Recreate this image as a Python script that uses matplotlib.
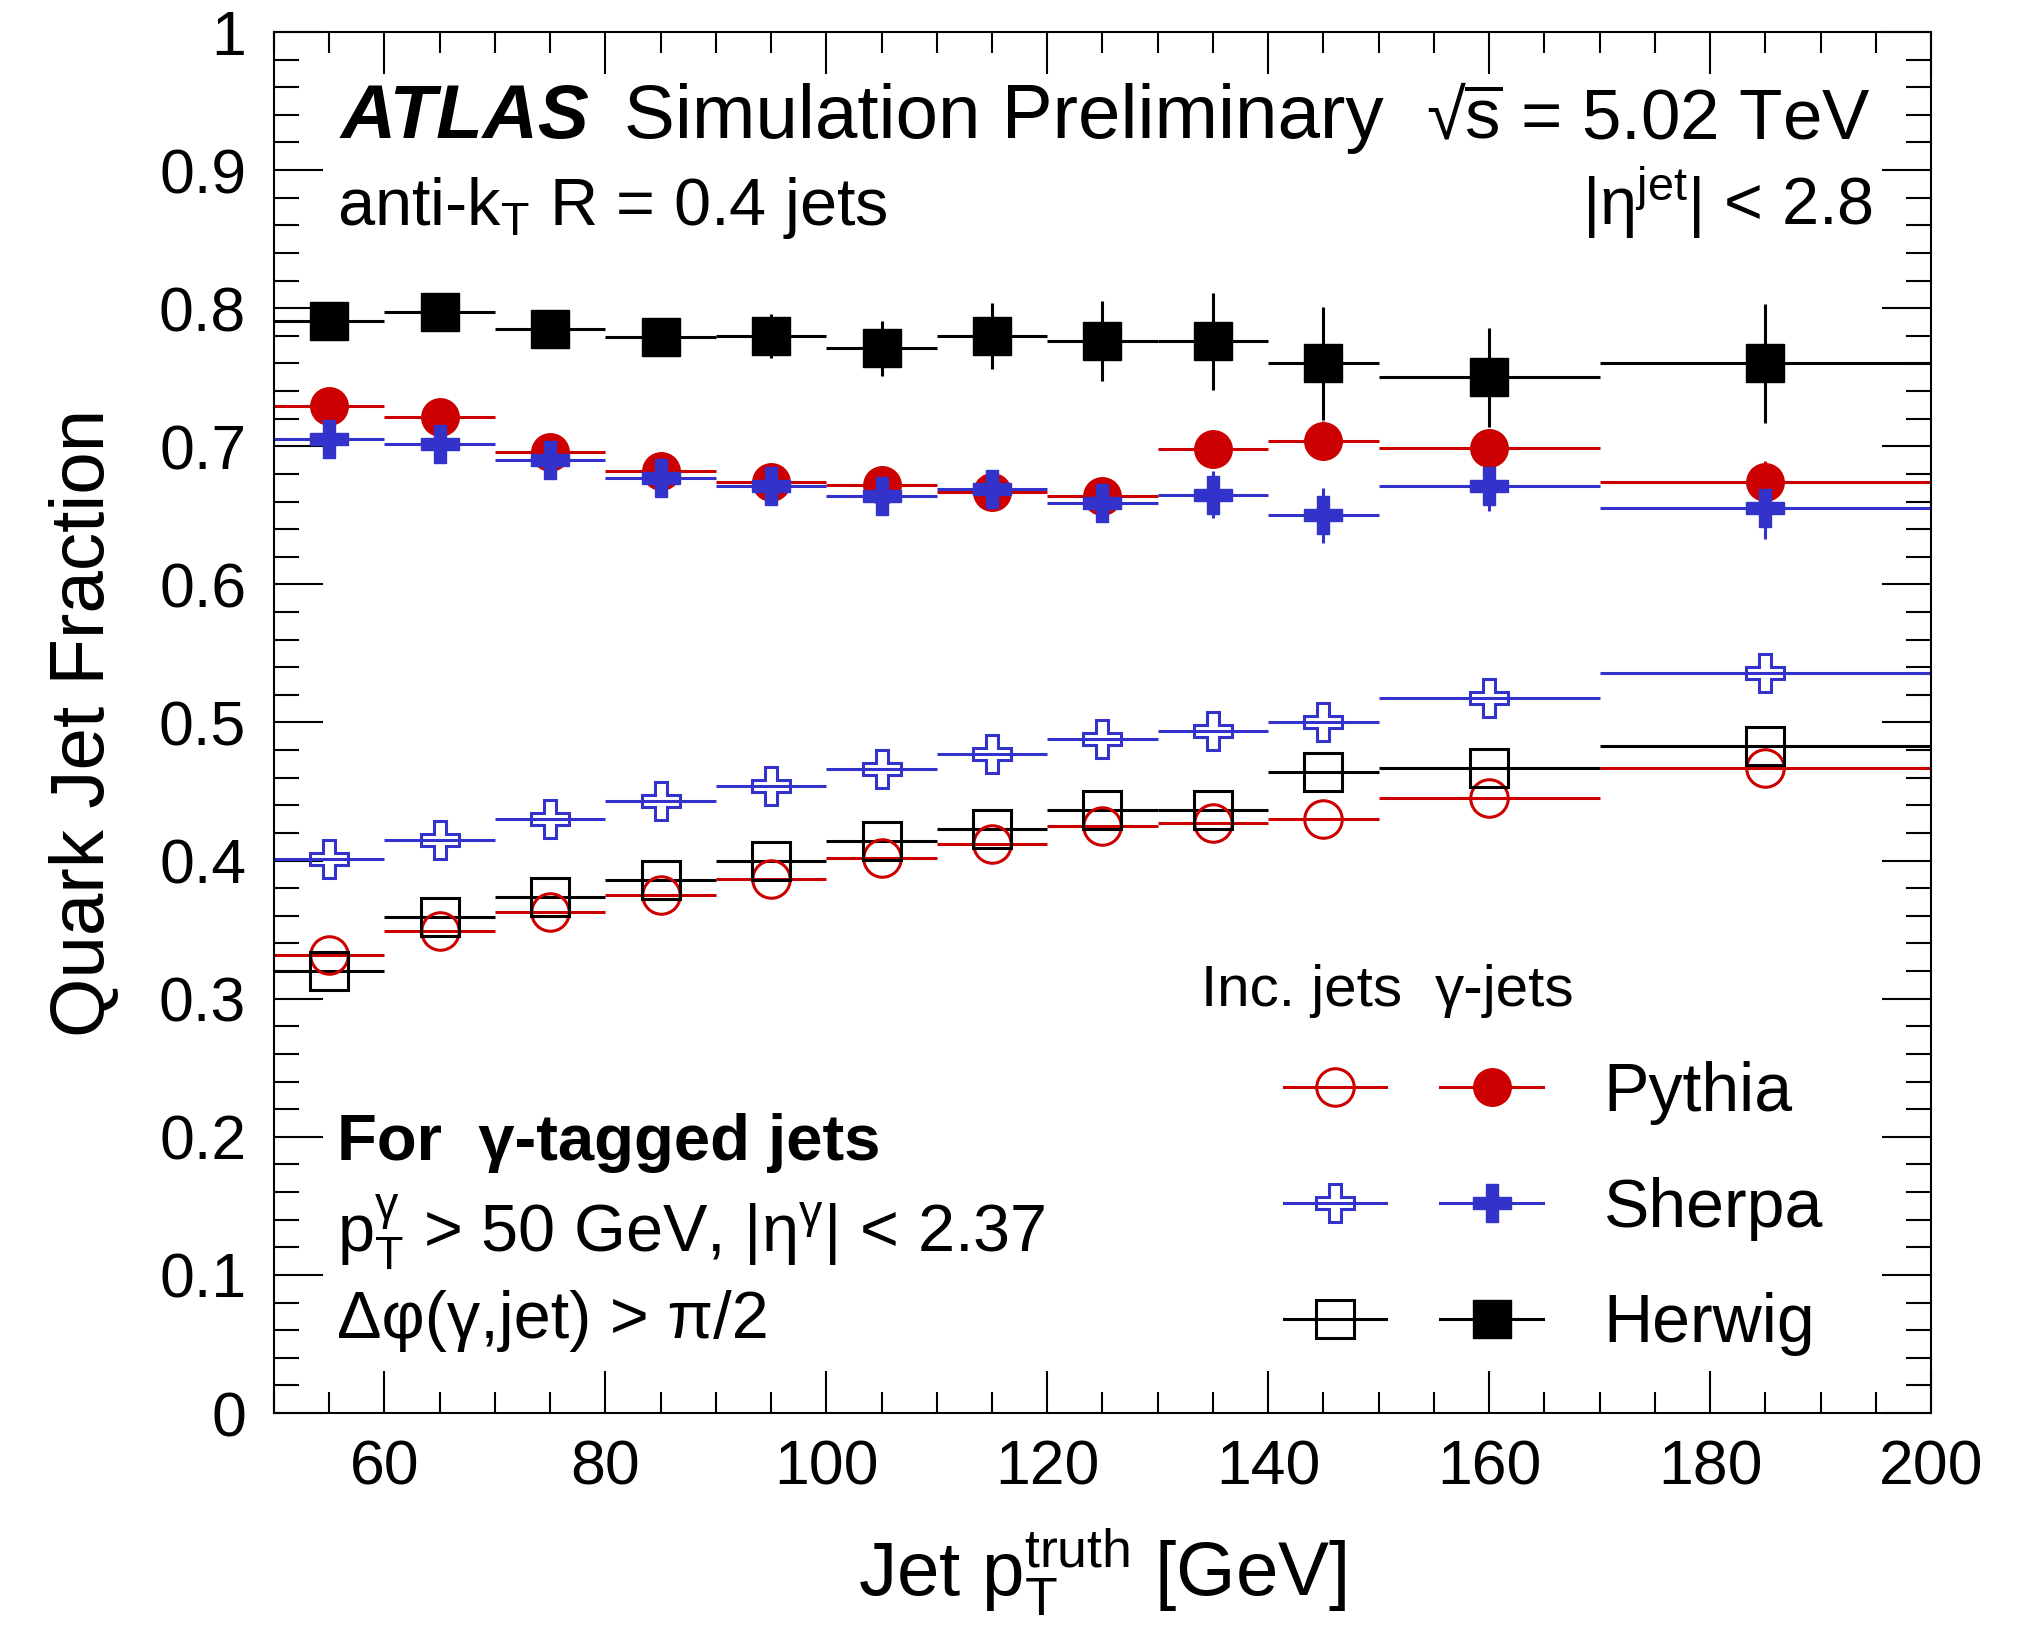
import numpy as np
import matplotlib
matplotlib.use("Agg")
import matplotlib.pyplot as plt
from matplotlib.lines import Line2D
from matplotlib.ticker import MultipleLocator, FuncFormatter

plt.rcParams['font.family'] = ['Liberation Sans', 'DejaVu Sans']
plt.rcParams['mathtext.fontset'] = 'custom'
plt.rcParams['mathtext.rm'] = 'Liberation Sans'
plt.rcParams['mathtext.it'] = 'Liberation Sans:italic'
plt.rcParams['mathtext.bf'] = 'Liberation Sans:bold'

# %% veri: jet pT bin kenarlari ve quark jet oranlari
bin_edges = np.array([50, 60, 70, 80, 90, 100, 110, 120, 130, 140, 150, 170, 200])

# inclusive jets (acik markerlar)
pythia_inc = [0.332, 0.349, 0.363, 0.375, 0.387, 0.402, 0.412, 0.425, 0.427, 0.430, 0.445, 0.467]
sherpa_inc = [0.401, 0.415, 0.430, 0.443, 0.454, 0.466, 0.477, 0.488, 0.494, 0.500, 0.518, 0.536]
herwig_inc = [0.320, 0.359, 0.374, 0.386, 0.400, 0.414, 0.423, 0.437, 0.437, 0.464, 0.467, 0.483]

# gamma-tagged jets (dolu markerlar)
pythia_gam = [0.729, 0.721, 0.696, 0.682, 0.674, 0.672, 0.667, 0.664, 0.698, 0.704, 0.699, 0.674]
sherpa_gam = [0.705, 0.702, 0.690, 0.677, 0.671, 0.664, 0.669, 0.659, 0.665, 0.650, 0.671, 0.655]
herwig_gam = [0.791, 0.797, 0.785, 0.779, 0.780, 0.771, 0.780, 0.776, 0.776, 0.760, 0.750, 0.760]
pythia_gam_err = [0.004, 0.005, 0.006, 0.007, 0.008, 0.009, 0.010, 0.011, 0.012, 0.014, 0.012, 0.015]
sherpa_gam_err = [0.010, 0.010, 0.011, 0.011, 0.012, 0.012, 0.014, 0.013, 0.017, 0.020, 0.018, 0.022]
herwig_gam_err = [0.008, 0.009, 0.011, 0.012, 0.016, 0.020, 0.024, 0.029, 0.035, 0.041, 0.036, 0.043]

generators = ["Pythia", "Sherpa", "Herwig"]

# %% gorsellestirme
red = "#cc0000"
blue = "#3333cc"
black = "#000000"

centers = (bin_edges[:-1] + bin_edges[1:]) / 2
halfw = (bin_edges[1:] - bin_edges[:-1]) / 2

fig = plt.figure(figsize=(20.18, 16.44), dpi=100)
ax = fig.add_axes([274 / 2018, 1 - 1413 / 1644, (1931 - 274) / 2018, (1413 - 32) / 1644])

ms = 27
lw = 2.2
inc_series = [(pythia_inc, 'o', red), (herwig_inc, 's', black), (sherpa_inc, 'P', blue)]
gam_series = [(herwig_gam, herwig_gam_err, 's', black),
              (pythia_gam, pythia_gam_err, 'o', red),
              (sherpa_gam, sherpa_gam_err, 'P', blue)]

for vals, mk, col in inc_series:
    ax.errorbar(centers, vals, xerr=halfw, fmt=mk, ms=ms, mfc='none',
                mec=col, mew=2.2, ecolor=col, elinewidth=lw, capsize=0)
for vals, errs, mk, col in gam_series:
    ax.errorbar(centers, vals, xerr=halfw, yerr=errs, fmt=mk, ms=ms, mfc=col,
                mec=col, mew=1, ecolor=col, elinewidth=lw, capsize=0)

ax.set_xlim(50, 200)
ax.set_ylim(0, 1)
ax.xaxis.set_major_locator(MultipleLocator(20))
ax.xaxis.set_minor_locator(MultipleLocator(5))
ax.yaxis.set_major_locator(MultipleLocator(0.1))
ax.yaxis.set_minor_locator(MultipleLocator(0.02))
ax.yaxis.set_major_formatter(FuncFormatter(lambda v, p: "%g" % round(v, 2)))
ax.tick_params(which='both', direction='in', top=True, right=True, width=1.5, labelsize=45)
ax.tick_params(axis='x', which='major', length=30, pad=18)
ax.tick_params(axis='x', which='minor', length=15)
ax.tick_params(axis='y', which='major', length=35, pad=20)
ax.tick_params(axis='y', which='minor', length=18)
for sp in ax.spines.values():
    sp.set_linewidth(1.5)

ax.set_ylabel("Quark Jet Fraction", fontsize=55)
ax.yaxis.label.set_verticalalignment('baseline')
ax.yaxis.set_label_coords(-0.103, 0.5)
ax.set_xlabel(r"Jet p$_{\mathrm{T}}^{\mathrm{truth}}$ [GeV]", fontsize=55)
ax.xaxis.label.set_verticalalignment('baseline')
ax.xaxis.set_label_coords(0.5, -0.1325)

# ust yazilar
ax.text(0.0404, 0.9232, "ATLAS", fontsize=55, fontweight='bold', fontstyle='italic',
        transform=ax.transAxes, va='baseline')
ax.text(0.2112, 0.9232, "Simulation Preliminary", fontsize=55,
        transform=ax.transAxes, va='baseline')
ax.text(0.9632, 0.9232, r"√$\overline{\mathrm{s}}$ = 5.02 TeV", fontsize=51,
        transform=ax.transAxes, va='baseline', ha='right')
ax.text(0.038, 0.8602, r"anti-k$_{\mathrm{T}}$ R = 0.4 jets", fontsize=48,
        transform=ax.transAxes, va='baseline')
ax.text(0.965, 0.8602, r"|η$^{\mathrm{jet}}$| < 2.8", fontsize=48,
        transform=ax.transAxes, va='baseline', ha='right')

# alt sol yazilar
ax.text(0.038, 0.1832, "For  γ-tagged jets", fontsize=47, fontweight='bold',
        transform=ax.transAxes, va='baseline')
ax.text(0.038, 0.1166, r"p$_{\mathrm{T}}^{\mathrm{γ}}$ > 50 GeV, |η$^{\mathrm{γ}}$| < 2.37", fontsize=48,
        transform=ax.transAxes, va='baseline')
ax.text(0.038, 0.0543, "Δφ(γ,jet) > π/2", fontsize=48,
        transform=ax.transAxes, va='baseline')

# legend
ax.text(0.5594, 0.2947, "Inc. jets", fontsize=42, transform=ax.transAxes, va='baseline')
ax.text(0.7007, 0.2947, "γ-jets", fontsize=42, transform=ax.transAxes, va='baseline')

inc_handles = [Line2D([], [], color=c, marker=m, ms=ms, mfc='none', mec=c, mew=2.2, lw=lw)
               for m, c in [('o', red), ('P', blue), ('s', black)]]
gam_handles = [Line2D([], [], color=c, marker=m, ms=ms, mfc=c, mec=c, mew=1, lw=lw)
               for m, c in [('o', red), ('P', blue), ('s', black)]]
ax.legend(handles=inc_handles + gam_handles, labels=[""] * 3 + generators, ncol=2,
          frameon=False, fontsize=49, handlelength=1.5, handletextpad=0.9,
          columnspacing=-0.1, labelspacing=0.76, borderpad=0, borderaxespad=0,
          loc='upper left', bbox_to_anchor=(0.6095, 0.2549))

fig.savefig("out.png", dpi=100)
